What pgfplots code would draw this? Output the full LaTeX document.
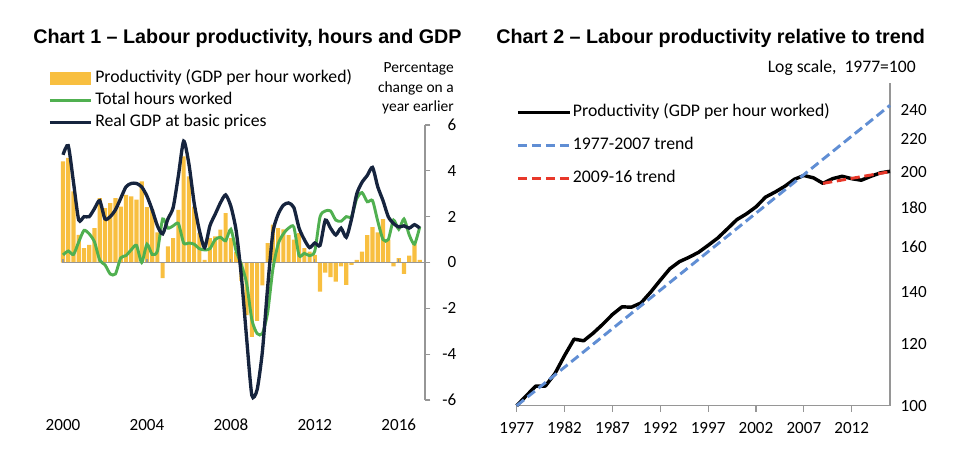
\documentclass[border=0pt]{standalone}
\usepackage{fontspec}
\setmainfont{Carlito}
\newfontfamily\titlefont{Liberation Sans}
\usepackage{pgfplots}
\usepackage{pgfplotstable}
\pgfplotsset{compat=1.18}
\definecolor{prodc}{RGB}{248,191,64}
\definecolor{hoursc}{RGB}{80,176,80}
\definecolor{gdpc}{RGB}{22,36,62}
\definecolor{trendb}{RGB}{96,142,212}
\definecolor{trendr}{RGB}{232,56,42}
\definecolor{axgray}{RGB}{150,150,150}

\pgfplotstableread{
i prod hours gdp
0 4.41 0.33 4.70
1 4.56 0.50 5.10
2 3.10 0.35 3.50
3 1.21 0.90 1.85
4 0.63 1.40 2.00
5 0.77 1.25 2.00
6 1.50 0.90 2.35
7 2.81 0.10 2.70
8 2.37 -0.10 1.90
9 2.59 -0.50 2.00
10 2.81 -0.50 2.30
11 2.44 0.20 2.80
12 2.95 0.30 3.30
13 2.88 0.55 3.45
14 2.74 0.75 3.45
15 3.54 0.00 3.30
16 2.42 0.80 2.90
17 2.30 0.35 2.30
18 1.31 0.50 1.60
19 -0.68 1.90 1.25
20 0.70 1.50 1.90
21 1.06 1.60 2.40
22 2.30 1.70 3.80
23 4.63 0.85 5.30
24 3.76 0.85 4.30
25 2.44 0.80 2.60
26 1.28 0.60 1.40
27 0.12 0.55 0.65
28 1.06 0.60 1.60
29 1.14 1.00 2.10
30 1.43 1.10 2.60
31 2.15 0.95 2.95
32 1.06 1.45 2.45
33 0.45 0.50 1.40
34 -0.80 -0.10 -0.60
35 -2.30 -0.90 -3.30
36 -3.25 -2.50 -5.80
37 -2.55 -3.10 -5.55
38 -1.00 -3.10 -3.90
39 0.85 -2.20 -1.10
40 1.65 -0.30 1.30
41 1.50 0.80 2.10
42 1.45 1.25 2.50
43 1.20 1.50 2.60
44 1.00 1.55 2.40
45 1.28 0.30 1.50
46 0.63 0.40 1.00
47 0.48 0.30 0.65
48 0.33 0.50 0.85
49 -1.27 2.00 0.75
50 -0.44 2.25 1.85
51 -0.64 2.25 1.50
52 -0.83 1.85 1.20
53 -0.17 1.80 1.50
54 -0.98 2.00 1.10
55 -0.10 2.00 1.90
56 0.12 2.80 3.00
57 0.48 3.05 3.50
58 1.20 2.65 3.80
59 1.54 2.70 4.15
60 1.32 1.80 3.30
61 1.89 1.00 2.70
62 1.00 1.00 2.00
63 -0.17 1.85 1.70
64 0.19 1.45 1.55
65 -0.50 1.90 1.60
66 0.30 1.20 1.50
67 0.84 0.80 1.65
68 0.12 1.55 1.50
}\chartone

\pgfplotstableread{
year prod
1977 100.0
1978 103.0
1979 106.0
1980 106.0
1981 110.0
1982 116.0
1983 121.8
1984 121.2
1985 124.0
1986 127.3
1987 131.0
1988 134.0
1989 133.9
1990 135.6
1991 140.0
1992 145.0
1993 150.0
1994 153.2
1995 155.2
1996 157.5
1997 160.8
1998 164.3
1999 168.8
2000 173.5
2001 176.5
2002 180.2
2003 185.5
2004 188.3
2005 191.5
2006 195.5
2007 197.8
2008 196.4
2009 193.2
2010 195.9
2011 197.3
2012 195.9
2013 195.0
2014 197.3
2015 199.3
2016 200.2
}\charttwo

\begin{document}
\begin{tikzpicture}
\useasboundingbox (0,0) rectangle (720pt,340.5pt);

\node[anchor=west, inner sep=0pt, font=\titlefont\bfseries\fontsize{14.8}{17}\selectfont] at (24.75pt,312pt) {Chart 1 – Labour productivity, hours and GDP};
\node[anchor=west, inner sep=0pt, font=\titlefont\bfseries\fontsize{14.8}{17}\selectfont] at (372pt,312pt) {Chart 2 – Labour productivity relative to trend};
\node[anchor=north east, inner sep=0pt, align=right, font=\fontsize{11.6}{14.6}\selectfont] at (340.5pt,293.5pt) {Percentage\\change on a\\year earlier};
\node[anchor=east, inner sep=0pt, font=\fontsize{13.2}{16}\selectfont] at (687pt,289.5pt) {Log scale,\ \ 1977=100};

\begin{axis}[
  at={(47.25pt,40.5pt)}, anchor=south west, scale only axis,
  width=271.5pt, height=206.25pt,
  xmin=0, xmax=69, ymin=-6, ymax=6,
  axis x line*=bottom, axis y line*=right,
  x axis line style={draw=none},
  y axis line style={draw=axgray, line width=0.9pt},
  xtick={0,16,32,48,64}, xticklabels={2000,2004,2008,2012,2016},
  xtick style={draw=none},
  ytick={-6,-4,-2,0,2,4,6},
  ytick style={draw=axgray, line width=0.9pt},
  tick align=outside, major tick length=4pt,
  ticklabel style={font=\fontsize{12.8}{15}\selectfont},
  xticklabel style={anchor=north, inner sep=0pt, text height=9pt, text depth=0pt, yshift=-10pt},
  /pgf/number format/assume math mode=true,
  yticklabel style={text width=12pt, align=right, anchor=west, xshift=4pt},
  clip=false,
  legend style={at={(-0.0414,1.2)}, anchor=north west, draw=none, fill=none,
    inner sep=0pt, row sep=4pt, font=\fontsize{13.3}{16}\selectfont,
    nodes={inner sep=0pt, text height=9.5pt, text depth=3pt},
    /tikz/every odd column/.append style={column sep=2pt}},
  legend cell align=left,
]
\addplot[ybar, bar width=3.1pt, fill=prodc, draw=none,
  legend image code/.code={\fill[prodc] (0pt,-4.9pt) rectangle (30.75pt,4.9pt);}]
  table[x=i,y=prod]{\chartone};
\addlegendentry{Productivity (GDP per hour worked)}
\addplot[axgray, line width=0.9pt, forget plot] coordinates {(0,0) (69,0)};
\draw[axgray, line width=0.9pt] (axis cs:0,0) -- ++(0pt,3pt);
\draw[axgray, line width=0.9pt] (axis cs:16,0) -- ++(0pt,3pt);
\draw[axgray, line width=0.9pt] (axis cs:32,0) -- ++(0pt,3pt);
\draw[axgray, line width=0.9pt] (axis cs:48,0) -- ++(0pt,3pt);
\draw[axgray, line width=0.9pt] (axis cs:64,0) -- ++(0pt,3pt);
\addplot[hoursc, line width=2.2pt, smooth, tension=0.4,
  legend image code/.code={\draw[hoursc, line width=2.2pt] (0pt,0pt) -- (30.75pt,0pt);}]
  table[x=i,y=hours]{\chartone};
\addlegendentry{Total hours worked}
\addplot[gdpc, line width=2.5pt, smooth, tension=0.4,
  legend image code/.code={\draw[gdpc, line width=2.5pt] (0pt,0pt) -- (30.75pt,0pt);}]
  table[x=i,y=gdp]{\chartone};
\addlegendentry{Real GDP at basic prices}
\end{axis}

\begin{axis}[
  at={(387.5pt,36.2pt)}, anchor=south west, scale only axis,
  width=280pt, height=242pt,
  xmin=1977, xmax=2016, ymode=log, ymin=100, ymax=260,
  axis x line*=bottom, axis y line*=right,
  axis line style={draw=axgray, line width=0.9pt},
  xtick={1977,1982,1987,1992,1997,2002,2007,2012},
  xticklabels={1977,1982,1987,1992,1997,2002,2007,2012},
  xtick style={draw=axgray, line width=0.9pt},
  tick align=outside, major tick length=4.5pt,
  ytick={100,120,140,160,180,200,220,240},
  yticklabels={100,120,140,160,180,200,220,240},
  ytick style={draw=none}, minor tick num=0,
  ticklabel style={font=\fontsize{12.8}{15}\selectfont},
  xticklabel style={anchor=north, inner sep=0pt, text height=9pt, text depth=0pt, yshift=-7.5pt},
  yticklabel style={anchor=west},
  clip=false,
  legend style={at={(-0.002,0.935)}, anchor=north west, draw=none, fill=none,
    inner sep=0pt, row sep=12.25pt, font=\fontsize{13.3}{16}\selectfont,
    nodes={inner sep=0pt, text height=9.5pt, text depth=3pt},
    /tikz/every odd column/.append style={column sep=1pt}},
  legend cell align=left,
]
\addplot[black, line width=2.6pt, line join=round,
  legend image code/.code={\draw[black, line width=2.6pt] (0pt,0pt) -- (39pt,0pt);}]
  table[x=year,y=prod]{\charttwo};
\addlegendentry{Productivity (GDP per hour worked)}
\addplot[trendb, line width=2.2pt, dash pattern=on 7pt off 3.5pt,
  legend image code/.code={\draw[trendb, line width=2.2pt, dash pattern=on 7pt off 3.5pt] (0pt,0pt) -- (39pt,0pt);}]
  coordinates {(1977,100) (2016,243.4)};
\addlegendentry{1977-2007 trend}
\addplot[trendr, line width=2.2pt, dash pattern=on 7pt off 3.5pt,
  legend image code/.code={\draw[trendr, line width=2.2pt, dash pattern=on 7pt off 3.5pt] (0pt,0pt) -- (39pt,0pt);}]
  coordinates {(2009,193.2) (2016,200.0)};
\addlegendentry{2009-16 trend}
\end{axis}
\end{tikzpicture}
\end{document}
